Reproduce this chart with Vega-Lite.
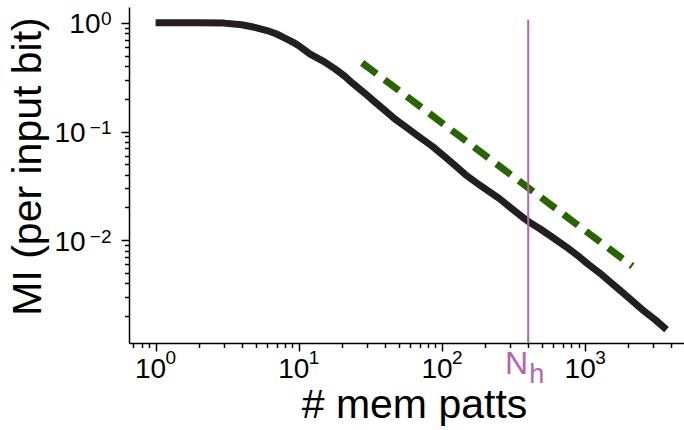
{
  "$schema": "https://vega.github.io/schema/vega-lite/v6.json",
  "width": 555,
  "height": 336,
  "autosize": {"type": "none"},
  "padding": {"left": 129, "top": 7, "right": 0, "bottom": 87},
  "background": "white",
  "config": {
    "view": {"stroke": null},
    "font": "Liberation Sans",
    "axis": {
      "grid": false,
      "domainColor": "black",
      "domainWidth": 1.5,
      "tickColor": "black",
      "tickWidth": 1.5,
      "labelColor": "black",
      "labelFont": "Liberation Sans",
      "labelFontSize": 28,
      "labelFlush": false,
      "labelOverlap": false,
      "titleColor": "black",
      "titleFont": "Liberation Sans",
      "titleFontSize": 41,
      "titleFontWeight": "normal"
    }
  },
  "resolve": {"axis": {"x": "independent", "y": "independent"}},
  "datasets": {
    "mi": [
      {"n": 1, "mi": 1.0}, {"n": 2, "mi": 1.0}, {"n": 3, "mi": 0.995}, {"n": 4, "mi": 0.96},
      {"n": 5, "mi": 0.905}, {"n": 6, "mi": 0.85}, {"n": 7, "mi": 0.79}, {"n": 8, "mi": 0.725},
      {"n": 9, "mi": 0.67}, {"n": 10, "mi": 0.615}, {"n": 12, "mi": 0.515}, {"n": 15, "mi": 0.44},
      {"n": 18, "mi": 0.375}, {"n": 21, "mi": 0.322}, {"n": 24, "mi": 0.275}, {"n": 29, "mi": 0.224},
      {"n": 34, "mi": 0.187}, {"n": 40, "mi": 0.156}, {"n": 47, "mi": 0.130}, {"n": 56, "mi": 0.110},
      {"n": 68, "mi": 0.091}, {"n": 86, "mi": 0.0728}, {"n": 105, "mi": 0.0584}, {"n": 125, "mi": 0.048},
      {"n": 146, "mi": 0.040}, {"n": 175, "mi": 0.0336}, {"n": 210, "mi": 0.0284}, {"n": 252, "mi": 0.0241},
      {"n": 300, "mi": 0.020}, {"n": 350, "mi": 0.0170}, {"n": 403, "mi": 0.01475}, {"n": 480, "mi": 0.0128},
      {"n": 580, "mi": 0.0108}, {"n": 736, "mi": 0.00868}, {"n": 900, "mi": 0.0071}, {"n": 1050, "mi": 0.006},
      {"n": 1268, "mi": 0.00496}, {"n": 1500, "mi": 0.0041}, {"n": 1800, "mi": 0.00335}, {"n": 2173, "mi": 0.0027},
      {"n": 2600, "mi": 0.0022}, {"n": 3100, "mi": 0.00184}, {"n": 3700, "mi": 0.0015}
    ],
    "fit": [
      {"n": 27.7, "mi": 0.428}, {"n": 2138, "mi": 0.00576}
    ],
    "nh": [
      {"n": 400, "bottom": 0.00113, "top": 1.07, "main": "N", "sub": "h"}
    ]
  },
  "layer": [
    {
      "data": {"name": "mi"},
      "mark": {"type": "line", "color": "#231f20", "strokeWidth": 7, "strokeJoin": "round"},
      "encoding": {
        "x": {
          "field": "n", "type": "quantitative",
          "scale": {"type": "log", "domain": [0.652, 4900], "nice": false},
          "axis": {
            "orient": "bottom",
            "title": "# mem patts",
            "values": [0.7, 0.8, 0.9, 1, 2, 3, 4, 5, 6, 7, 8, 9, 10, 20, 30, 40, 50, 60, 70, 80, 90, 100, 200, 300, 400, 500, 600, 700, 800, 900, 1000, 2000, 3000, 4000],
            "labelExpr": "datum.value == 1 || datum.value == 10 || datum.value == 100 || datum.value == 1000 ? '10' : ''",
            "tickSize": {"condition": {"test": "datum.value == 1 || datum.value == 10 || datum.value == 100 || datum.value == 1000", "value": 8}, "value": 4.5},
            "labelPadding": 4,
            "labelOffset": -5.5,
            "titleX": 285,
            "titleAlign": "center",
            "titleY": 74,
            "titleBaseline": "alphabetic"
          }
        },
        "y": {
          "field": "mi", "type": "quantitative",
          "scale": {"type": "log", "domain": [0.00113, 1.4], "nice": false},
          "axis": {
            "orient": "left",
            "title": "MI (per input bit)",
            "values": [0.002, 0.003, 0.004, 0.005, 0.006, 0.007, 0.008, 0.009, 0.01, 0.02, 0.03, 0.04, 0.05, 0.06, 0.07, 0.08, 0.09, 0.1, 0.2, 0.3, 0.4, 0.5, 0.6, 0.7, 0.8, 0.9, 1],
            "labelExpr": "datum.value == 1 || datum.value == 0.1 || datum.value == 0.01 ? '10' : ''",
            "tickSize": {"condition": {"test": "datum.value == 1 || datum.value == 0.1 || datum.value == 0.01", "value": 8}, "value": 4.5},
            "labelPadding": {"condition": {"test": "datum.value == 1", "value": 21}, "value": 35.8},
            "labelOffset": 2,
            "titleX": -89,
            "titleY": 159,
            "titleBaseline": "alphabetic"
          }
        }
      }
    },
    {
      "data": {"name": "fit"},
      "mark": {"type": "line", "color": "#286400", "strokeWidth": 7, "strokeDash": [18, 10]},
      "encoding": {
        "x": {
          "field": "n", "type": "quantitative",
          "axis": {
            "orient": "bottom",
            "title": null,
            "domain": false,
            "tickOpacity": 0,
            "tickSize": 4.5,
            "values": [1, 10, 100, 1000],
            "labelExpr": "datum.value == 1 ? '0' : datum.value == 10 ? '1' : datum.value == 100 ? '2' : '3'",
            "labelFontSize": 19,
            "labelAlign": "left",
            "labelOffset": 9.5,
            "labelPadding": 1
          }
        },
        "y": {
          "field": "mi", "type": "quantitative",
          "axis": {
            "orient": "left",
            "title": null,
            "domain": false,
            "tickOpacity": 0,
            "tickSize": 0,
            "values": [0.01, 0.1, 1],
            "labelExpr": "datum.value == 1 ? '0' : datum.value == 0.1 ? '−1' : '−2'",
            "labelFontSize": 19,
            "labelAlign": "right",
            "labelOffset": -4,
            "labelPadding": 18
          }
        }
      }
    },
    {
      "data": {"name": "nh"},
      "mark": {"type": "rule", "color": "#b565ad", "strokeWidth": 2},
      "encoding": {
        "x": {"field": "n", "type": "quantitative", "axis": null},
        "y": {"field": "bottom", "type": "quantitative", "axis": null},
        "y2": {"field": "top"}
      }
    },
    {
      "data": {"name": "nh"},
      "mark": {"type": "text", "color": "#b565ad", "fontSize": 32, "font": "Liberation Sans", "align": "right", "baseline": "alphabetic", "dx": 0, "dy": 31},
      "encoding": {
        "x": {"field": "n", "type": "quantitative", "axis": null},
        "y": {"field": "bottom", "type": "quantitative", "axis": null},
        "text": {"field": "main"}
      }
    },
    {
      "data": {"name": "nh"},
      "mark": {"type": "text", "color": "#b565ad", "fontSize": 27, "font": "Liberation Sans", "align": "left", "baseline": "alphabetic", "dx": 1, "dy": 40},
      "encoding": {
        "x": {"field": "n", "type": "quantitative", "axis": null},
        "y": {"field": "bottom", "type": "quantitative", "axis": null},
        "text": {"field": "sub"}
      }
    }
  ]
}
